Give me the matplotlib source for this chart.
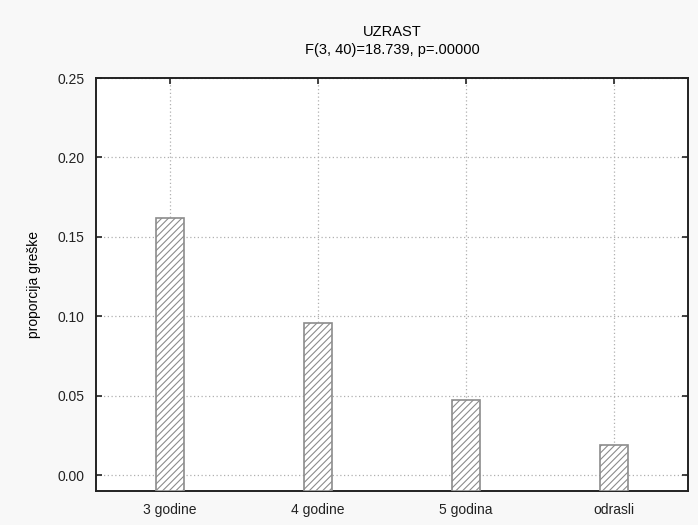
import numpy as np
import matplotlib
matplotlib.use('Agg')
import matplotlib.pyplot as plt

# Mean error proportion per age group
groups = ['3 godine', '4 godine', '5 godina', 'odrasli']
error_prop = [0.162, 0.096, 0.0475, 0.0188]
yticks = [0.00, 0.05, 0.10, 0.15, 0.20, 0.25]

plt.rcParams['font.family'] = ['Liberation Sans', 'DejaVu Sans']
plt.rcParams['hatch.linewidth'] = 0.8

fig = plt.figure(figsize=(6.98, 5.25), dpi=100, facecolor='#f8f8f8')
ax = fig.add_axes([0.1375, 0.0653, 0.8482, 0.7861])
ax.set_facecolor('white')

ymin = -0.0098
x = np.arange(len(groups))
# bars start at the bottom of the axis, as in the STATISTICA style
ax.bar(x, np.array(error_prop) - ymin, bottom=ymin, width=0.19,
       color='white', edgecolor='#8c8c8c', hatch='/////', linewidth=1.2,
       zorder=3)

ax.set_xlim(-0.5, len(groups) - 0.5)
ax.set_ylim(ymin, 0.25)
ax.set_xticks(x)
ax.set_xticklabels(groups)
ax.set_yticks(yticks)
ax.set_yticklabels(['%.2f' % v for v in yticks])

ax.grid(True, linestyle=(0, (1, 2)), color='#b0b0b0', linewidth=0.9, zorder=0)
ax.tick_params(direction='in', length=4, width=1.2, colors='#222222',
               top=True, right=True, labelsize=10, pad=8)
ax.tick_params(axis='x', pad=9)
for s in ax.spines.values():
    s.set_linewidth(1.4)
    s.set_color('#222222')

ax.set_ylabel('proporcija greške', fontsize=10, labelpad=12)
ax.set_title('UZRAST\nF(3, 40)=18.739, p=.00000', fontsize=10.5,
             linespacing=1.4, pad=17)

plt.savefig('out.png', dpi=100, facecolor=fig.get_facecolor())
